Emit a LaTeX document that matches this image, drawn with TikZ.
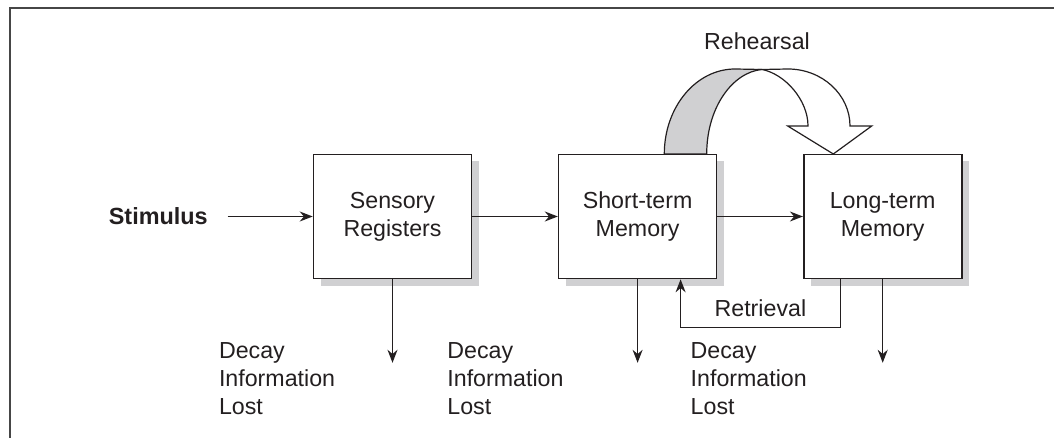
\documentclass[tikz,border=0pt]{standalone}
\usepackage{fontspec}
\setmainfont{Liberation Sans}
\usetikzlibrary{arrows.meta,positioning,shadows}

\definecolor{ink}{RGB}{35,31,32}
\definecolor{shade}{RGB}{208,208,210}
\definecolor{rule}{RGB}{70,70,70}

\begin{document}
\begin{tikzpicture}[
		x=0.5pt, y=-0.5pt,
		line width=0.7pt,
		color=ink,
		node distance=42.75pt,
		>={Stealth[length=6.5pt, width=5pt]},
		tag/.style={font=\fontsize{11.6}{14}\selectfont},
		box/.style={draw, line width=0.8pt, fill=white, minimum width=79pt, minimum height=62pt, align=center, tag,
			drop shadow={shadow xshift=3.5pt, shadow yshift=-3.5pt, fill=shade, opacity=1}},
		lost/.style={tag, align=left, inner sep=0pt, anchor=north west},
	]
		\useasboundingbox (0,0) rectangle (1054,438);
		\draw[rule, line width=1pt] (9.5,438) -- (9.5,8.5) -- (1054,8.5);

		\node (sensory) [box] at (392.5,216.5) {Sensory\\Registers};
		\node (short) [box, right=of sensory] {Short-term\\Memory};
		\node (long) [box, right=of short] {Long-term\\Memory};
		\node (stimulus) [left=42.5pt of sensory, inner sep=0pt, outer xsep=10pt, font=\bfseries\fontsize{11.7}{14}\selectfont] {Stimulus};

		\draw[->] (stimulus.east) -- (sensory.west);
		\draw[->] (sensory) -- (short);
		\draw[->] (short) -- (long);

		% information lost below each store
		\coordinate [below=41.75pt of sensory] (sensory end);
		\coordinate [below=41.75pt of short] (short end);
		\coordinate [below=41.75pt of long] (long end);
		\draw[->] (sensory) -- (sensory end);
		\draw[->] (short) -- (short end);
		\draw[->] (long) -- (long end);

		\node (lost sensory) [lost] at (218.3,341.5) {Decay\\Information\\Lost};
		\node (lost short) [lost] at (446.7,341.5) {Decay\\Information\\Lost};
		\node (lost long) [lost] at (690,341.5) {Decay\\Information\\Lost};

		\draw[->] ([xshift=-21.25pt]long.south) -- ++(0,-24pt) -| node[pos=0.25, above=1.5pt, tag] (retrieval) {Retrieval} ([xshift=21.5pt]short.south);

		% rehearsal loop
		\filldraw[fill=shade, line width=0.6pt] (664.3,154) .. controls (664.3,107) and (696,69) .. (735,69) -- (762,69.5) .. controls (733,72) and (706.7,107) .. (706.7,154) -- cycle;
		\filldraw[fill=white, line width=0.6pt] (762,69.5) -- (788,69) .. controls (822,69) and (850,94.5) .. (850,126) -- (871.7,126) -- (833.3,154) -- (787.7,126) -- (808,126) .. controls (808,100) and (785,74) .. (762,69.5) -- cycle;
		\node (rehearsal) [tag, anchor=base] at (757,49.3) {Rehearsal};
	\end{tikzpicture}
\end{document}
